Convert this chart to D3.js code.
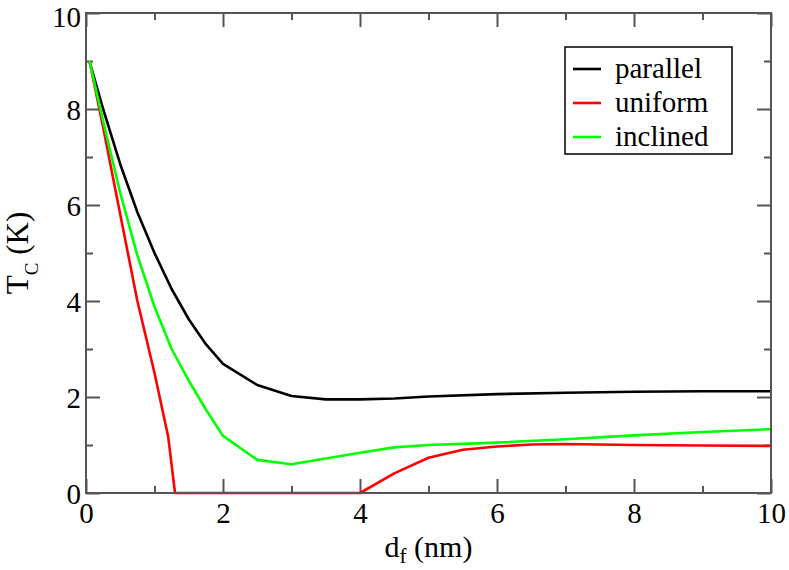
<!DOCTYPE html>
<html>
<head>
<meta charset="utf-8">
<script src="https://cdn.jsdelivr.net/npm/d3@7"></script>
<style>
  html, body { margin: 0; padding: 0; background: #fff; }
  svg { display: block; }
</style>
</head>
<body>
<div id="chart"></div>
<script>
// data
var dfParallel = [0.05, 0.25, 0.5, 0.75, 1, 1.25, 1.5, 1.75, 2, 2.5, 3, 3.5, 4, 4.5, 5, 6, 7, 8, 9, 10];
var tcParallel = [9.0, 8.0, 6.85, 5.85, 5.0, 4.25, 3.62, 3.1, 2.69, 2.25, 2.02, 1.95, 1.95, 1.97, 2.01, 2.06, 2.09, 2.11, 2.12, 2.12];

var dfUniform = [0.05, 0.25, 0.5, 0.75, 1, 1.2, 1.3, 2, 3, 4, 4.5, 5, 5.5, 6, 6.5, 7, 8, 9, 10];
var tcUniform = [9.0, 7.62, 5.8, 4.0, 2.5, 1.17, 0.0, 0.0, 0.0, 0.0, 0.41, 0.735, 0.9, 0.97, 1.01, 1.02, 1.0, 0.99, 0.98];

var dfInclined = [0.05, 0.25, 0.5, 0.75, 1, 1.25, 1.5, 1.75, 2, 2.5, 3, 3.5, 4, 4.5, 5, 6, 7, 8, 9, 10];
var tcInclined = [9.0, 7.75, 6.25, 4.95, 3.88, 3.0, 2.34, 1.74, 1.19, 0.69, 0.6, 0.72, 0.84, 0.95, 1.0, 1.05, 1.12, 1.2, 1.27, 1.33];

var seriesNames  = ["parallel", "uniform", "inclined"];
var seriesColors = ["#000000", "#ff0000", "#00ff00"];
var majorTicks   = [0, 2, 4, 6, 8, 10];
var minorTicks   = [1, 3, 5, 7, 9];

(function () {
    var W = 789, H = 570;
    var margin = { top: 13, right: 18, bottom: 77, left: 86 };
    var iW = W - margin.left - margin.right;
    var iH = H - margin.top - margin.bottom;
    var AXIS = "#555555";
    var FONT = "'Liberation Serif', 'Nimbus Roman', FreeSerif, 'Noto Serif', 'DejaVu Serif', serif";

    var svg = d3.select("#chart").append("svg")
        .attr("width", W).attr("height", H)
        .attr("font-family", FONT);
    var g = svg.append("g")
        .attr("transform", "translate(" + margin.left + "," + margin.top + ")");

    var x = d3.scaleLinear().domain([0, 10]).range([0, iW]);
    var y = d3.scaleLinear().domain([0, 10]).range([iH, 0]);

    var series = [
        { xs: dfParallel, ys: tcParallel },
        { xs: dfUniform,  ys: tcUniform },
        { xs: dfInclined, ys: tcInclined }
    ].map(function (s, i) {
        return {
            name: seriesNames[i],
            color: seriesColors[i],
            pts: s.xs.map(function (v, j) { return [v, s.ys[j]]; })
        };
    });

    // ticks: major + minor, mirrored on all four sides, pointing inward
    function tickAxis(axisFn, scale, vals, len, transform, labels) {
        var a = axisFn(scale).tickValues(vals).tickSize(-len).tickSizeOuter(0);
        if (!labels) a.tickFormat("");
        var ag = g.append("g").attr("transform", transform).call(a);
        ag.attr("font-family", FONT);
        ag.select(".domain").remove();
        ag.selectAll("line").attr("stroke", AXIS).attr("stroke-width", 2);
        return ag;
    }

    var bx = tickAxis(d3.axisBottom, x, majorTicks, 14, "translate(0," + iH + ")", true);
    tickAxis(d3.axisBottom, x, minorTicks, 7, "translate(0," + iH + ")", false);
    tickAxis(d3.axisTop, x, majorTicks, 14, "translate(0,0)", false);
    tickAxis(d3.axisTop, x, minorTicks, 7, "translate(0,0)", false);
    var ly = tickAxis(d3.axisLeft, y, majorTicks, 14, "translate(0,0)", true);
    tickAxis(d3.axisLeft, y, minorTicks, 7, "translate(0,0)", false);
    tickAxis(d3.axisRight, y, majorTicks, 14, "translate(" + iW + ",0)", false);
    tickAxis(d3.axisRight, y, minorTicks, 7, "translate(" + iW + ",0)", false);

    bx.selectAll("text")
        .attr("y", 0).attr("dy", "1.05em")
        .attr("font-size", 29)
        .attr("fill", "#000");
    ly.selectAll("text")
        .attr("x", -5).attr("dy", "0.36em")
        .attr("font-size", 29)
        .attr("fill", "#000");
    // top label sits right at the page edge; nudge it down so it isn't clipped
    ly.selectAll(".tick").filter(function (d) { return d === 10; })
        .select("text").attr("y", 3);

    // curves
    var line = d3.line()
        .x(function (d) { return x(d[0]); })
        .y(function (d) { return y(d[1]); });

    series.forEach(function (s) {
        g.append("path")
            .datum(s.pts)
            .attr("fill", "none")
            .attr("stroke", s.color)
            .attr("stroke-width", 2.6)
            .attr("stroke-linejoin", "round")
            .attr("d", line);
    });

    // frame
    g.append("rect")
        .attr("width", iW).attr("height", iH)
        .attr("fill", "none")
        .attr("stroke", AXIS)
        .attr("stroke-width", 2);

    // axis titles
    var xt = svg.append("text")
        .attr("x", margin.left + iW / 2).attr("y", 557)
        .attr("text-anchor", "middle")
        .attr("font-size", 30);
    xt.append("tspan").text("d");
    xt.append("tspan").attr("dy", 6).attr("font-size", 21).text("f");
    xt.append("tspan").attr("dy", -6).text(" (nm)");

    var yt = svg.append("text")
        .attr("transform", "translate(28," + (margin.top + iH / 2) + ") rotate(-90)")
        .attr("text-anchor", "middle")
        .attr("font-size", 31);
    yt.append("tspan").text("T");
    yt.append("tspan").attr("dy", 10).attr("font-size", 19).text("C");
    yt.append("tspan").attr("dy", -10).text(" (K)");

    // legend
    var lg = svg.append("g").attr("transform", "translate(565,47)");
    lg.append("rect")
        .attr("width", 167).attr("height", 107)
        .attr("fill", "#fff")
        .attr("stroke", "#000")
        .attr("stroke-width", 1.5);

    series.forEach(function (s, i) {
        var by = 31 + i * 34;
        lg.append("line")
            .attr("x1", 8).attr("x2", 36)
            .attr("y1", by - 9).attr("y2", by - 9)
            .attr("stroke", s.color)
            .attr("stroke-width", 2.6);
        lg.append("text")
            .attr("x", 50).attr("y", by)
            .attr("font-size", 29)
            .text(s.name);
    });
}());
</script>
</body>
</html>
